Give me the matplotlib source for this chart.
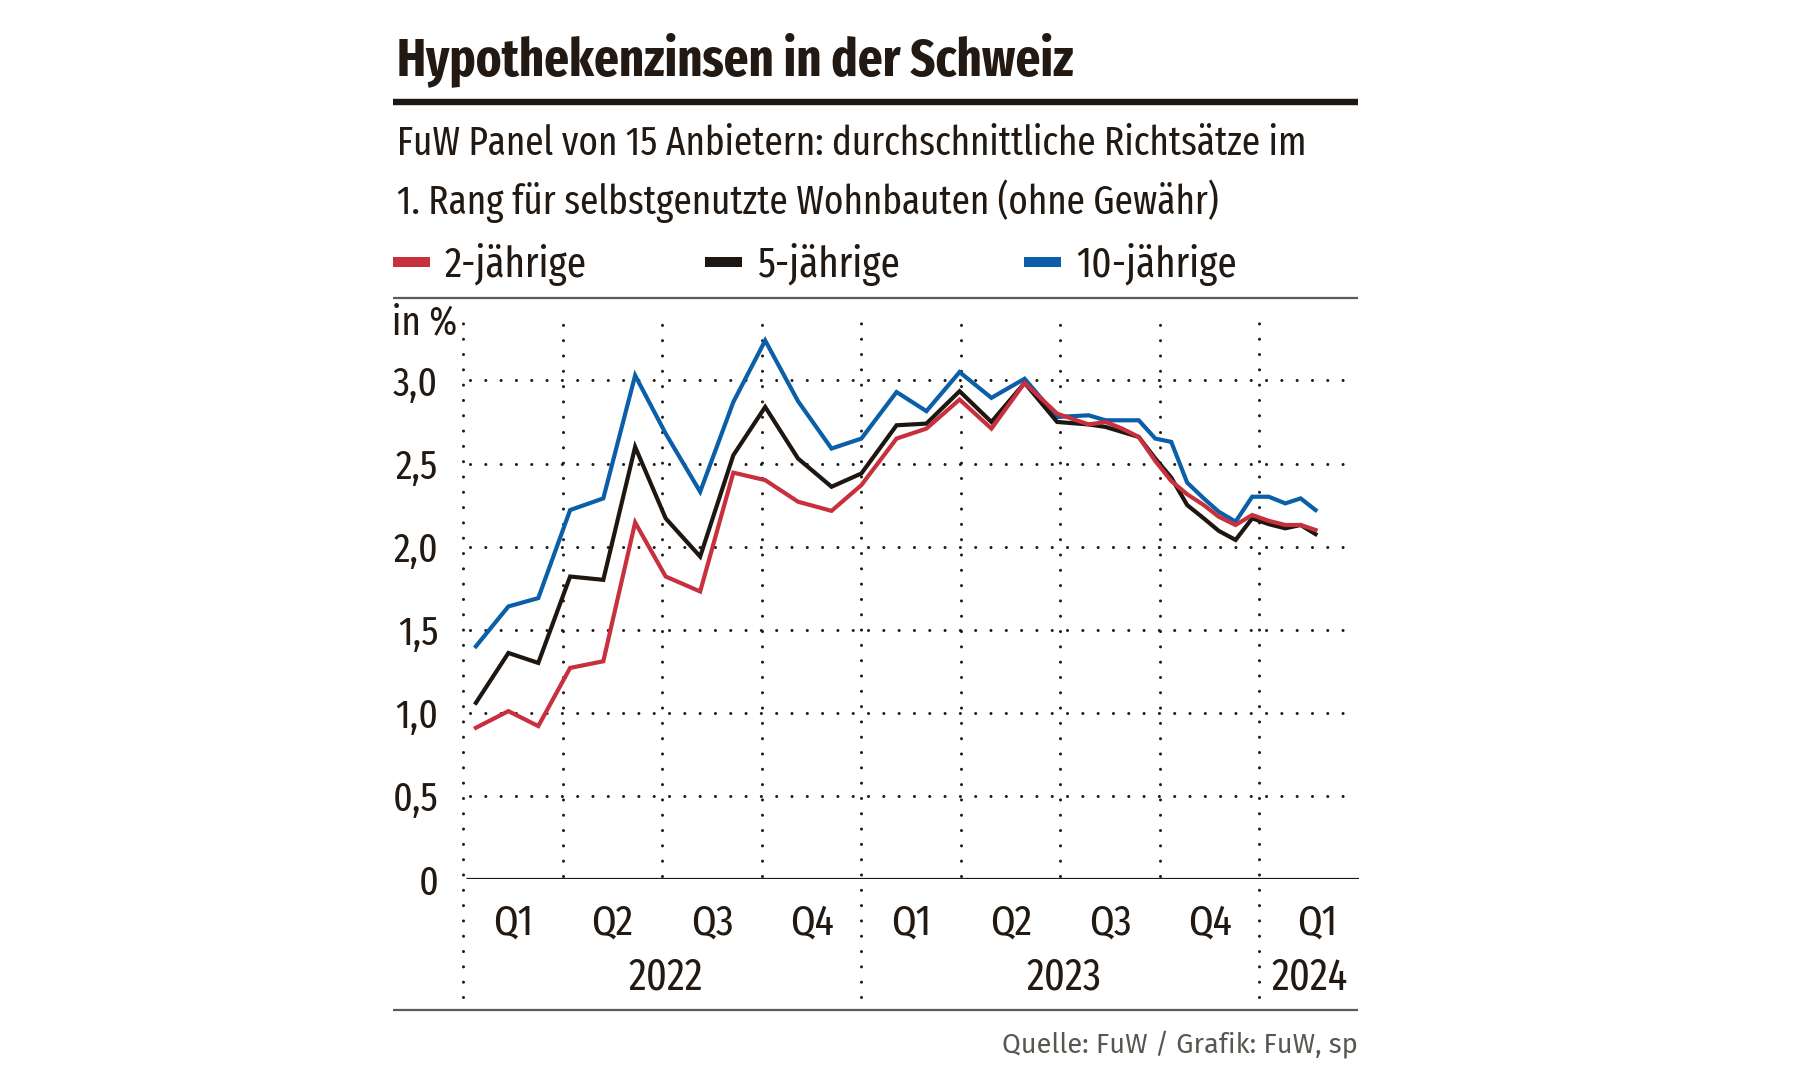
import matplotlib
matplotlib.use("Agg")
import matplotlib.pyplot as plt
from matplotlib.patches import Rectangle
from matplotlib.lines import Line2D

W, H, DPI = 1806, 1092, 100

# month offset since 1 Jan 2022, rates in %
months = [0.38, 1.36, 2.26, 3.22, 4.22, 5.18, 6.1, 7.14, 8.14, 9.1, 10.09, 11.1,
          12.0, 13.06, 13.96, 14.96, 15.92, 16.92, 17.9, 18.85, 19.36, 19.86, 20.36,
          20.86, 21.34, 21.82, 22.32, 22.77, 23.28, 23.78, 24.28, 24.78, 25.24, 25.69]
rate_2y = [0.91, 1.01, 0.92, 1.27, 1.31, 2.145, 1.82, 1.73, 2.445, 2.40, 2.27, 2.215,
           2.37, 2.65, 2.71, 2.885, 2.71, 2.985, 2.80, 2.735, 2.75, 2.71, 2.66,
           2.515, 2.395, 2.315, 2.25, 2.18, 2.13, 2.19, 2.155, 2.13, 2.13, 2.10]
rate_5y = [1.06, 1.36, 1.30, 1.82, 1.80, 2.60, 2.17, 1.94, 2.55, 2.84, 2.53, 2.36,
           2.44, 2.73, 2.74, 2.935, 2.75, 2.985, 2.75, 2.735, 2.72, 2.69, 2.66,
           2.53, 2.415, 2.25, 2.17, 2.095, 2.04, 2.17, 2.135, 2.11, 2.13, 2.075]
rate_10y = [1.40, 1.64, 1.69, 2.22, 2.29, 3.03, 2.68, 2.33, 2.87, 3.24, 2.875, 2.59,
            2.65, 2.93, 2.815, 3.05, 2.895, 3.01, 2.78, 2.79, 2.76, 2.76, 2.76,
            2.65, 2.63, 2.385, 2.29, 2.21, 2.15, 2.30, 2.30, 2.26, 2.29, 2.22]

series_names = ["2-jährige", "5-jährige", "10-jährige"]
y_ticks = [0, 0.5, 1.0, 1.5, 2.0, 2.5, 3.0]
y_labels = ["0", "0,5", "1,0", "1,5", "2,0", "2,5", "3,0"]
q_pos = [1.5, 4.5, 7.5, 10.5, 13.5, 16.5, 19.5, 22.5, 25.75]
q_labels = ["Q1", "Q2", "Q3", "Q4", "Q1", "Q2", "Q3", "Q4", "Q1"]
year_pos = [6.1, 18.1, 25.5]
year_labels = ["2022", "2023", "2024"]
quarter_edges = [0, 3, 6, 9, 12, 15, 18, 21, 24]

INK = "#221a12"
RED = "#c8303d"
BLACK = "#1e1610"
BLUE = "#0b5ea8"
RULE = "#5e5955"
COND = ["Fira Sans Extra Condensed", "DejaVu Sans"]

fig = plt.figure(figsize=(W / DPI, H / DPI), dpi=DPI)

def fx(px):
    return px / W

def fy(py):
    return 1 - py / H

# plot area: x in months, 166.2 px per percent point
x0, x1, ybase, ytop = 463.3, 1359.0, 879.0, 310.0
ax = fig.add_axes([fx(x0), fy(ybase), fx(x1 - x0), (ybase - ytop) / H])
ax.set_xlim(0, 27)
ax.set_ylim(0, (ybase - ytop) / 166.2)
for s in ax.spines.values():
    s.set_visible(False)

dot = (0, (0.01, 5.0))
for v in y_ticks[1:]:
    ax.plot([0.2, 26.65], [v, v], color=INK, lw=2.2, linestyle=dot,
            dash_capstyle="round", zorder=1)
for q in quarter_edges:
    ybot = -0.71 if q % 12 == 0 else 0.02
    ax.plot([q, q], [ybot, ax.get_ylim()[1]], color=INK, lw=2.2, linestyle=dot,
            dash_capstyle="round", clip_on=False, zorder=1)
ax.plot([0.08, 27], [0, 0], color=INK, lw=2.3, solid_capstyle="butt", zorder=2)

for vals, col in [(rate_10y, BLUE), (rate_5y, BLACK), (rate_2y, RED)]:
    ax.plot(months, vals, color=col, lw=3.0, solid_joinstyle="miter", zorder=3)

ax.set_yticks(y_ticks, y_labels)
ax.set_xticks(q_pos, q_labels)
ax.tick_params(axis="both", length=0, colors=INK)
ax.tick_params(axis="y", pad=18)
ax.tick_params(axis="x", pad=17)
for lab in ax.get_yticklabels():
    lab.set_fontfamily(COND)
    lab.set_fontsize(29.5)
for lab in ax.get_xticklabels():
    lab.set_fontfamily(COND)
    lab.set_fontsize(31)
for xp, yl in zip(year_pos, year_labels):
    ax.text(xp, -0.665, yl, ha="center", va="baseline", fontsize=31.5,
            family=COND, color=INK)

# header
fig.text(fx(397), fy(75), "Hypothekenzinsen in der Schweiz", fontsize=38,
         fontweight="bold", family=COND, color=INK, va="baseline")
fig.add_artist(Line2D([fx(393), fx(1358)], [fy(101.5), fy(101.5)], lw=4.6,
                      color=BLACK, solid_capstyle="butt"))
fig.text(fx(397), fy(155), "FuW Panel von 15 Anbietern: durchschnittliche Richtsätze im",
         fontsize=29.0, family=COND, color=INK, va="baseline")
fig.text(fx(397), fy(214), "1. Rang für selbstgenutzte Wohnbauten (ohne Gewähr)",
         fontsize=29.0, family=COND, color=INK, va="baseline")

for px, name, col in zip([393, 705, 1024], series_names, [RED, BLACK, BLUE]):
    fig.add_artist(Rectangle((fx(px), fy(267)), fx(37), 10 / H, color=col, lw=0))
    fig.text(fx(px + 52), fy(277), name, fontsize=30.5, family=COND, color=INK,
             va="baseline")
fig.add_artist(Line2D([fx(393), fx(1358)], [fy(298), fy(298)], lw=1.6, color=RULE,
                      solid_capstyle="butt"))
fig.text(fx(392), fy(334), "in %", fontsize=29, family=COND, color=INK, va="baseline")

fig.add_artist(Line2D([fx(393), fx(1358)], [fy(1010), fy(1010)], lw=1.6, color=RULE,
                      solid_capstyle="butt"))
fig.text(fx(1358), fy(1053), "Quelle: FuW / Grafik: FuW, sp", fontsize=19.6,
         family=["Fira Sans", "DejaVu Sans"], color="#5a5652", ha="right", va="baseline")

fig.savefig("out.png", dpi=DPI)
